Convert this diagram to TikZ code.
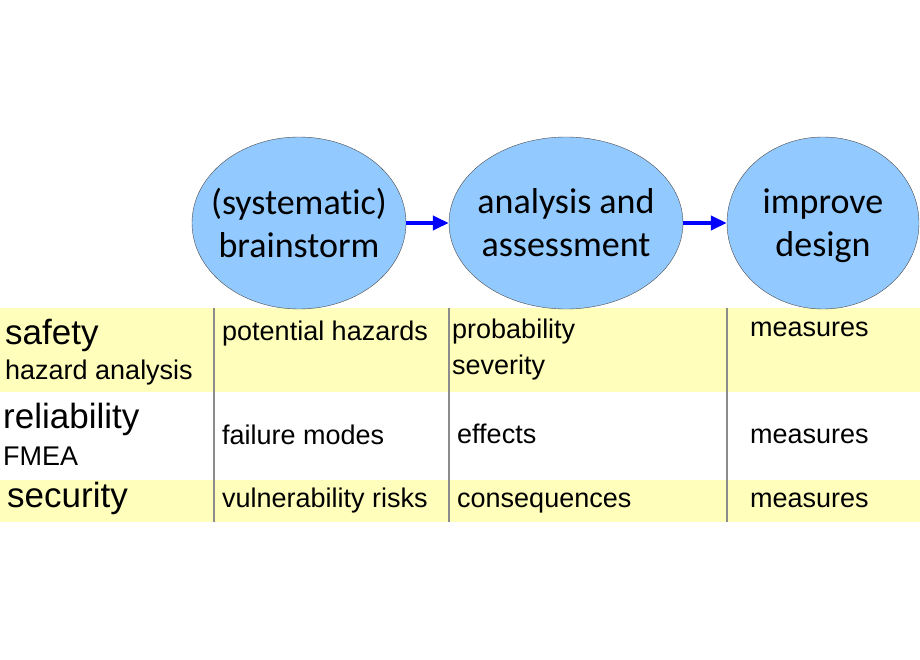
\documentclass[tikz,border=0pt]{standalone}
\usepackage{fontspec}
\setmainfont[Ligatures=NoCommon]{Liberation Sans}
\newfontfamily\ovalfont[Ligatures={NoCommon,NoContextual},RawFeature={-liga;-clig}]{Carlito}
\usetikzlibrary{arrows.meta,shapes.geometric}
\definecolor{ovalblue}{HTML}{92C9FF}
\definecolor{rowyellow}{HTML}{FFFFBB}

\begin{document}
\begin{tikzpicture}[x=1pt,y=-1pt]
\tikzstyle{oval}=[ellipse,draw=black!70,thin,fill=ovalblue,inner sep=0pt,minimum height=172pt]
\tikzstyle{ovaltext}=[inner sep=0pt,align=center,font=\ovalfont\fontsize{36}{43}\selectfont]
\tikzstyle{flow}=[draw=blue,line width=4pt,-{Triangle[length=16pt,width=14pt]}]
\tikzstyle{big}=[anchor=base west,inner sep=0pt,font=\fontsize{35}{40}\selectfont]
\tikzstyle{small}=[anchor=base west,inner sep=0pt,font=\fontsize{27}{32}\selectfont]
\tikzstyle{sep}=[draw=black!45,line width=2pt]

\useasboundingbox (0,0) rectangle (920,660);

% rows
\fill[rowyellow] (0,308) rectangle (920,392);
\fill[rowyellow] (0,480) rectangle (920,522);
\draw[sep] (214,308) -- (214,522);
\draw[sep] (449,308) -- (449,522);
\draw[sep] (727,308) -- (727,522);

% process
\node[oval,minimum width=214pt] (brain) at (299,223) {};
\node[oval,minimum width=234pt] (assess) at (566,223) {};
\node[oval,minimum width=192pt] (improve) at (823,223) {};
\node[ovaltext] (braintext) at (brain) {(systematic)\\brainstorm};
\node[ovaltext] (assesstext) at (assess) {analysis and\\assessment};
\node[ovaltext,yshift=-3pt] (improvetext) at (improve) {improve\\design};

\path (brain) edge[flow] (assess);
\path (assess) edge[flow] (improve);

% row labels
\node[big] (safety) at (5,344) {safety};
\node[small] (hazan) at (5,379) {hazard analysis};
\node[big] (reliab) at (3,428) {reliability};
\node[small] (fmea) at (3,465) {FMEA};
\node[big] (secur) at (7,507) {security};

% cells
\node[small] (hazards) at (222,340) {potential hazards};
\node[small] (failure) at (222,444) {failure modes};
\node[small] (vulner) at (222,507) {vulnerability risks};
\node[small] (prob) at (452,338) {probability};
\node[small] (sever) at (452,374) {severity};
\node[small] (effects) at (457,443) {effects};
\node[small] (conseq) at (457,507) {consequences};
\node[small] (meas1) at (750,336) {measures};
\node[small] (meas2) at (750,443) {measures};
\node[small] (meas3) at (750,507) {measures};

\end{tikzpicture}
\end{document}
